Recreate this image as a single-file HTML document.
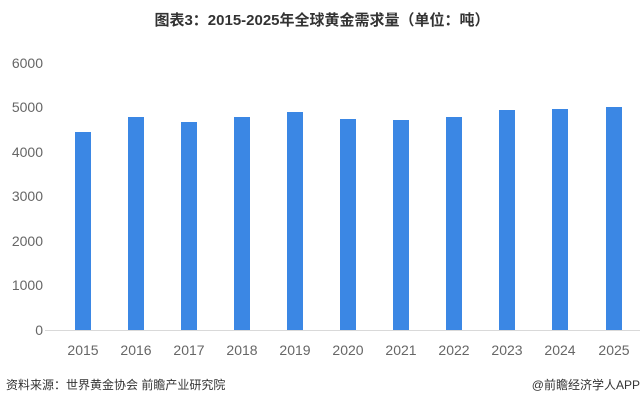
<!DOCTYPE html><html><head><meta charset="utf-8"><style>body{margin:0;background:#fff}</style></head><body>
<svg width="644" height="404" xmlns="http://www.w3.org/2000/svg" font-family="Liberation Sans, Noto Sans CJK SC, sans-serif">
<rect width="644" height="404" fill="#fff"/>
<text x="322" y="25" text-anchor="middle" font-size="15" font-weight="bold" fill="#333">图表3：2015-2025年全球黄金需求量（单位：吨）</text>
<g font-size="14" fill="#666" text-anchor="end">
<text x="43" y="68">6000</text><text x="43" y="112">5000</text><text x="43" y="157">4000</text><text x="43" y="201">3000</text><text x="43" y="246">2000</text><text x="43" y="290">1000</text><text x="43" y="335">0</text>
</g>
<line x1="45" y1="330.5" x2="640" y2="330.5" stroke="#d9d9d9"/>
<g fill="#3b87e4">
<rect x="75" y="132" width="16" height="198"/>
<rect x="128" y="117" width="16" height="213"/>
<rect x="181" y="122" width="16" height="208"/>
<rect x="234" y="117" width="16" height="213"/>
<rect x="287" y="112" width="16" height="218"/>
<rect x="340" y="119" width="16" height="211"/>
<rect x="393" y="120" width="16" height="210"/>
<rect x="446" y="117" width="16" height="213"/>
<rect x="499" y="110" width="16" height="220"/>
<rect x="552" y="109" width="16" height="221"/>
<rect x="606" y="107" width="16" height="223"/>
</g>
<g font-size="14" fill="#666" text-anchor="middle">
<text x="83" y="355">2015</text><text x="136" y="355">2016</text><text x="189" y="355">2017</text><text x="242" y="355">2018</text><text x="295" y="355">2019</text><text x="348" y="355">2020</text><text x="401" y="355">2021</text><text x="454" y="355">2022</text><text x="507" y="355">2023</text><text x="560" y="355">2024</text><text x="614" y="355">2025</text>
</g>
<text x="6" y="389" font-size="12" fill="#333">资料来源：世界黄金协会 前瞻产业研究院</text>
<text x="640" y="389" font-size="12" fill="#333" text-anchor="end">@前瞻经济学人APP</text>
</svg>
</body></html>
